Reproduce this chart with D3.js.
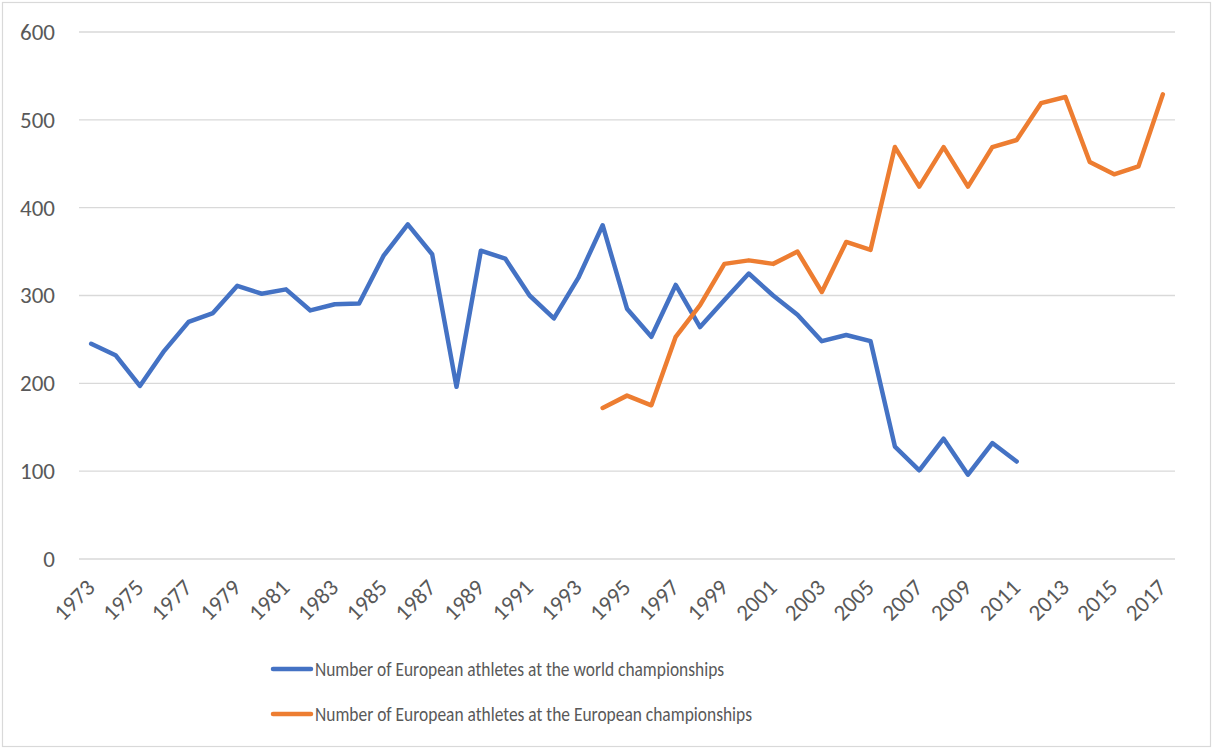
<!DOCTYPE html>
<html><head><meta charset="utf-8">
<script src="https://cdn.jsdelivr.net/npm/d3@7"></script>
<style>body{margin:0;background:#fff;}svg{display:block;}</style>
</head><body>
<script>
const years = d3.range(1973, 2018).map(String);
const worldSeries = [245,232,197,237,270,280,311,302,307,283,290,291,345,381,347,196,351,342,300,274,320,380,285,253,312,264,295,325,300,278,248,255,248,128,101,137,96,132,111,null,null,null,null,null,null];
const euroSeries = [null,null,null,null,null,null,null,null,null,null,null,null,null,null,null,null,null,null,null,null,null,172,186,175,253,289,336,340,336,350,304,361,352,469,424,469,424,469,477,519,526,452,438,447,529];
const yTicks = [0,100,200,300,400,500,600];
const tickYears = years.filter((d,i)=>i%2===0);
const seriesNames = ["Number of European athletes at the world championships","Number of European athletes at the European championships"];
const colors = ["#4472C4","#ED7D31"];

const W=1213,H=749;
const svg=d3.select("body").append("svg").attr("width",W).attr("height",H);
svg.append("rect").attr("x",2.5).attr("y",2.5).attr("width",W-5).attr("height",H-5).attr("fill","#fff").attr("stroke","#d9d9d9").attr("stroke-width",1.2);

const x=d3.scaleBand().domain(years).range([79,1175]);
const y=d3.scaleLinear().domain([0,600]).range([559,32]);
const font="Carlito, Lato, 'Open Sans', sans-serif";

const grid=svg.append("g");
grid.selectAll("line").data(yTicks).join("line")
 .attr("x1",79).attr("x2",1175).attr("y1",d=>y(d)).attr("y2",d=>y(d))
 .attr("stroke","#d9d9d9").attr("stroke-width",1.3);

const yAxis=svg.append("g").attr("transform","translate(79,0)")
 .call(d3.axisLeft(y).tickValues(yTicks).tickSize(0).tickPadding(24));
yAxis.select(".domain").remove();
yAxis.selectAll("text").attr("font-family",font).attr("font-size",23).attr("fill","#595959");

const xAxis=svg.append("g").attr("transform","translate(0,559)")
 .call(d3.axisBottom(x).tickValues(tickYears).tickSize(0));
xAxis.select(".domain").remove();
xAxis.selectAll("text").attr("font-family",font).attr("font-size",23).attr("fill","#595959")
 .attr("text-anchor","end").attr("dy",null).attr("y",0)
 .attr("transform","translate(5,30) rotate(-45)");

const line=d3.line().defined(d=>d!=null).x((d,i)=>x(years[i])+x.bandwidth()/2).y(d=>y(d));
[worldSeries,euroSeries].forEach((s,k)=>{
 svg.append("path").datum(s).attr("d",line).attr("fill","none").attr("stroke",colors[k])
  .attr("stroke-width",4.5).attr("stroke-linejoin","round").attr("stroke-linecap","round");
});

const legendWidths=[409,437];
const leg=svg.append("g");
seriesNames.forEach((n,k)=>{
 const ly=669+k*45;
 leg.append("line").attr("x1",273).attr("x2",311).attr("y1",ly).attr("y2",ly).attr("stroke",colors[k]).attr("stroke-width",4.5).attr("stroke-linecap","round");
 leg.append("text").attr("x",315).attr("y",ly).attr("dy","0.34em").attr("font-family",font).attr("font-size",20)
  .attr("textLength",legendWidths[k]).attr("lengthAdjust","spacingAndGlyphs").attr("fill","#595959").text(n);
});
</script>
</body></html>
